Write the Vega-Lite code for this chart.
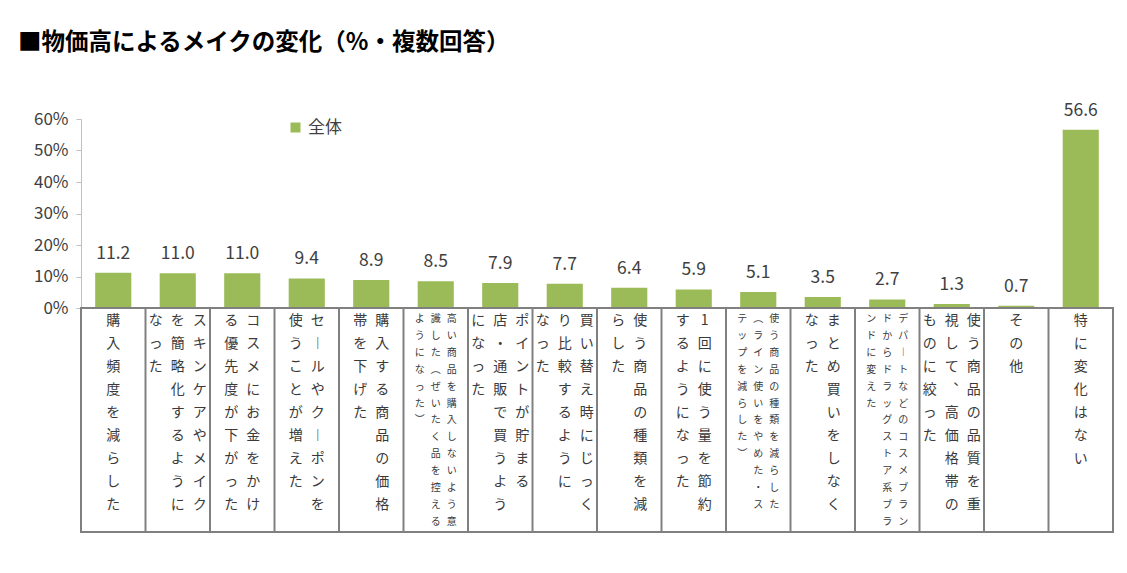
{
  "$schema": "https://vega.github.io/schema/vega-lite/v6.json",
  "padding": {"left": 18, "top": 31, "right": 5, "bottom": 5},
  "title": {"text": "■物価高によるメイクの変化（%・複数回答）", "anchor": "start", "frame": "group", "dx": -63, "fontSize": 23.5, "fontWeight": "bold", "color": "#000000", "font": "Noto Sans CJK JP", "offset": 47},
  "spacing": 0,
  "bounds": "flush",
  "resolve": {"scale": {"x": "independent", "xOffset": "independent"}},
  "config": {"view": {"stroke": null}, "font": "Noto Sans CJK JP"},
  "datasets": {
    "bars": [
      {"category": "購入頻度を減らした", "value": 11.2},
      {"category": "スキンケアやメイクを簡略化するようになった", "value": 11.0},
      {"category": "コスメにお金をかける優先度が下がった", "value": 11.0},
      {"category": "セールやクーポンを使うことが増えた", "value": 9.4},
      {"category": "購入する商品の価格帯を下げた", "value": 8.9},
      {"category": "高い商品を購入しないよう意識した（ぜいたく品を控えるようになった）", "value": 8.5},
      {"category": "ポイントが貯まる店・通販で買うようになった", "value": 7.9},
      {"category": "買い替え時にじっくり比較するようになった", "value": 7.7},
      {"category": "使う商品の種類を減らした", "value": 6.4},
      {"category": "1回に使う量を節約するようになった", "value": 5.9},
      {"category": "使う商品の種類を減らした（ライン使いをやめた・ステップを減らした）", "value": 5.1},
      {"category": "まとめ買いをしなくなった", "value": 3.5},
      {"category": "デパートなどのコスメブランドからドラッグストア系ブランドに変えた", "value": 2.7},
      {"category": "使う商品の品質を重視して、高価格帯のものに絞った", "value": 1.3},
      {"category": "その他", "value": 0.7},
      {"category": "特に変化はない", "value": 56.6}
    ],
    "labels": [
      {"category": "購入頻度を減らした", "line": 1, "text": "購入頻度を減らした"},
      {"category": "スキンケアやメイクを簡略化するようになった", "line": 1, "text": "スキンケアやメイク"},
      {"category": "スキンケアやメイクを簡略化するようになった", "line": 2, "text": "を簡略化するように"},
      {"category": "スキンケアやメイクを簡略化するようになった", "line": 3, "text": "なった"},
      {"category": "コスメにお金をかける優先度が下がった", "line": 1, "text": "コスメにお金をかけ"},
      {"category": "コスメにお金をかける優先度が下がった", "line": 2, "text": "る優先度が下がった"},
      {"category": "セールやクーポンを使うことが増えた", "line": 1, "text": "セールやクーポンを"},
      {"category": "セールやクーポンを使うことが増えた", "line": 2, "text": "使うことが増えた"},
      {"category": "購入する商品の価格帯を下げた", "line": 1, "text": "購入する商品の価格"},
      {"category": "購入する商品の価格帯を下げた", "line": 2, "text": "帯を下げた"},
      {"category": "高い商品を購入しないよう意識した（ぜいたく品を控えるようになった）", "line": 1, "text": "高い商品を購入しないよう意"},
      {"category": "高い商品を購入しないよう意識した（ぜいたく品を控えるようになった）", "line": 2, "text": "識した（ぜいたく品を控える"},
      {"category": "高い商品を購入しないよう意識した（ぜいたく品を控えるようになった）", "line": 3, "text": "ようになった）"},
      {"category": "ポイントが貯まる店・通販で買うようになった", "line": 1, "text": "ポイントが貯まる"},
      {"category": "ポイントが貯まる店・通販で買うようになった", "line": 2, "text": "店・通販で買うよう"},
      {"category": "ポイントが貯まる店・通販で買うようになった", "line": 3, "text": "になった"},
      {"category": "買い替え時にじっくり比較するようになった", "line": 1, "text": "買い替え時にじっく"},
      {"category": "買い替え時にじっくり比較するようになった", "line": 2, "text": "り比較するように"},
      {"category": "買い替え時にじっくり比較するようになった", "line": 3, "text": "なった"},
      {"category": "使う商品の種類を減らした", "line": 1, "text": "使う商品の種類を減"},
      {"category": "使う商品の種類を減らした", "line": 2, "text": "らした"},
      {"category": "1回に使う量を節約するようになった", "line": 1, "text": "1回に使う量を節約"},
      {"category": "1回に使う量を節約するようになった", "line": 2, "text": "するようになった"},
      {"category": "使う商品の種類を減らした（ライン使いをやめた・ステップを減らした）", "line": 1, "text": "使う商品の種類を減らした"},
      {"category": "使う商品の種類を減らした（ライン使いをやめた・ステップを減らした）", "line": 2, "text": "（ライン使いをやめた・ス"},
      {"category": "使う商品の種類を減らした（ライン使いをやめた・ステップを減らした）", "line": 3, "text": "テップを減らした）"},
      {"category": "まとめ買いをしなくなった", "line": 1, "text": "まとめ買いをしなく"},
      {"category": "まとめ買いをしなくなった", "line": 2, "text": "なった"},
      {"category": "デパートなどのコスメブランドからドラッグストア系ブランドに変えた", "line": 1, "text": "デパートなどのコスメブラン"},
      {"category": "デパートなどのコスメブランドからドラッグストア系ブランドに変えた", "line": 2, "text": "ドからドラッグストア系ブラ"},
      {"category": "デパートなどのコスメブランドからドラッグストア系ブランドに変えた", "line": 3, "text": "ンドに変えた"},
      {"category": "使う商品の品質を重視して、高価格帯のものに絞った", "line": 1, "text": "使う商品の品質を重"},
      {"category": "使う商品の品質を重視して、高価格帯のものに絞った", "line": 2, "text": "視して、高価格帯の"},
      {"category": "使う商品の品質を重視して、高価格帯のものに絞った", "line": 3, "text": "ものに絞った"},
      {"category": "その他", "line": 1, "text": "その他"},
      {"category": "特に変化はない", "line": 1, "text": "特に変化はない"}
    ]
  },
  "vconcat": [
    {
      "width": 1032,
      "height": 189,
      "data": {"name": "bars"},
      "encoding": {
        "x": {"field": "category", "type": "nominal", "sort": null, "scale": {"paddingInner": 0.44, "paddingOuter": 0.22}, "axis": null},
        "y": {"field": "value", "type": "quantitative", "scale": {"domain": [0, 60], "nice": false},
          "axis": {"values": [0, 10, 20, 30, 40, 50, 60], "labelExpr": "datum.value + '%'", "labelOverlap": false, "grid": false, "domainColor": "#bfbfbf", "tickColor": "#bfbfbf", "tickSize": 5, "labelFontSize": 17, "labelColor": "#404040", "labelPadding": 8, "title": null}}
      },
      "layer": [
        {
          "mark": {"type": "bar"},
          "encoding": {
            "color": {"datum": "全体", "type": "nominal", "scale": {"range": ["#9BBB59"]},
              "legend": {"orient": "none", "legendX": 206, "legendY": 0, "title": null, "labelFontSize": 17, "labelColor": "#404040", "symbolType": "square", "symbolSize": 100, "padding": 0}}
          }
        },
        {
          "mark": {"type": "text", "baseline": "bottom", "dy": -10, "fontSize": 17.5, "color": "#404040"},
          "encoding": {
            "text": {"field": "value", "type": "quantitative", "format": ".1f"}
          }
        }
      ]
    },
    {
      "width": 1032,
      "height": 224,
      "view": {"stroke": "#808080", "strokeWidth": 2},
      "encoding": {
        "x": {"field": "category", "type": "nominal", "sort": null, "scale": {"paddingInner": 0, "paddingOuter": 0}, "axis": null}
      },
      "layer": [
        {
          "data": {"name": "bars"},
          "mark": {"type": "rule", "stroke": "#808080", "strokeWidth": 2},
          "encoding": {
            "x": {"field": "category", "type": "nominal", "sort": null, "bandPosition": 0}
          }
        },
        {
          "data": {"name": "labels"},
          "transform": [
            {"filter": {"not": {"field": "category", "oneOf": ["高い商品を購入しないよう意識した（ぜいたく品を控えるようになった）", "使う商品の種類を減らした（ライン使いをやめた・ステップを減らした）", "デパートなどのコスメブランドからドラッグストア系ブランドに変えた"]}}},
            {"joinaggregate": [{"op": "count", "as": "n"}], "groupby": ["category"]},
            {"calculate": "((datum.n + 1) / 2 - datum.line) * 22", "as": "off"},
            {"calculate": "split(replace(replace(replace(replace(datum.text, /ー/g, '︱'), /（/g, '︵'), /）/g, '︶'), /、/g, '︑'), '')", "as": "chars"}
          ],
          "mark": {"type": "text", "baseline": "top", "fontSize": 14, "lineHeight": 23, "dy": 6, "color": "#3a3a3a"},
          "encoding": {
            "y": {"datum": 0, "type": "quantitative", "scale": {"domain": [0, 1], "reverse": true, "nice": false}, "axis": null},
            "xOffset": {"field": "off", "type": "quantitative", "scale": {"domain": [-32.25, 32.25], "nice": false, "zero": false}},
            "text": {"field": "chars"}
          }
        },
        {
          "data": {"name": "labels"},
          "transform": [
            {"filter": {"field": "category", "oneOf": ["高い商品を購入しないよう意識した（ぜいたく品を控えるようになった）", "使う商品の種類を減らした（ライン使いをやめた・ステップを減らした）", "デパートなどのコスメブランドからドラッグストア系ブランドに変えた"]}},
            {"joinaggregate": [{"op": "count", "as": "n"}], "groupby": ["category"]},
            {"calculate": "((datum.n + 1) / 2 - datum.line) * 16", "as": "off"},
            {"calculate": "split(replace(replace(replace(replace(datum.text, /ー/g, '︱'), /（/g, '︵'), /）/g, '︶'), /、/g, '︑'), '')", "as": "chars"}
          ],
          "mark": {"type": "text", "baseline": "top", "fontSize": 10, "lineHeight": 16.9, "dy": 6, "color": "#3a3a3a"},
          "encoding": {
            "y": {"datum": 0, "type": "quantitative"},
            "xOffset": {"field": "off", "type": "quantitative", "scale": {"domain": [-32.25, 32.25], "nice": false, "zero": false}},
            "text": {"field": "chars"}
          }
        }
      ]
    }
  ]
}
